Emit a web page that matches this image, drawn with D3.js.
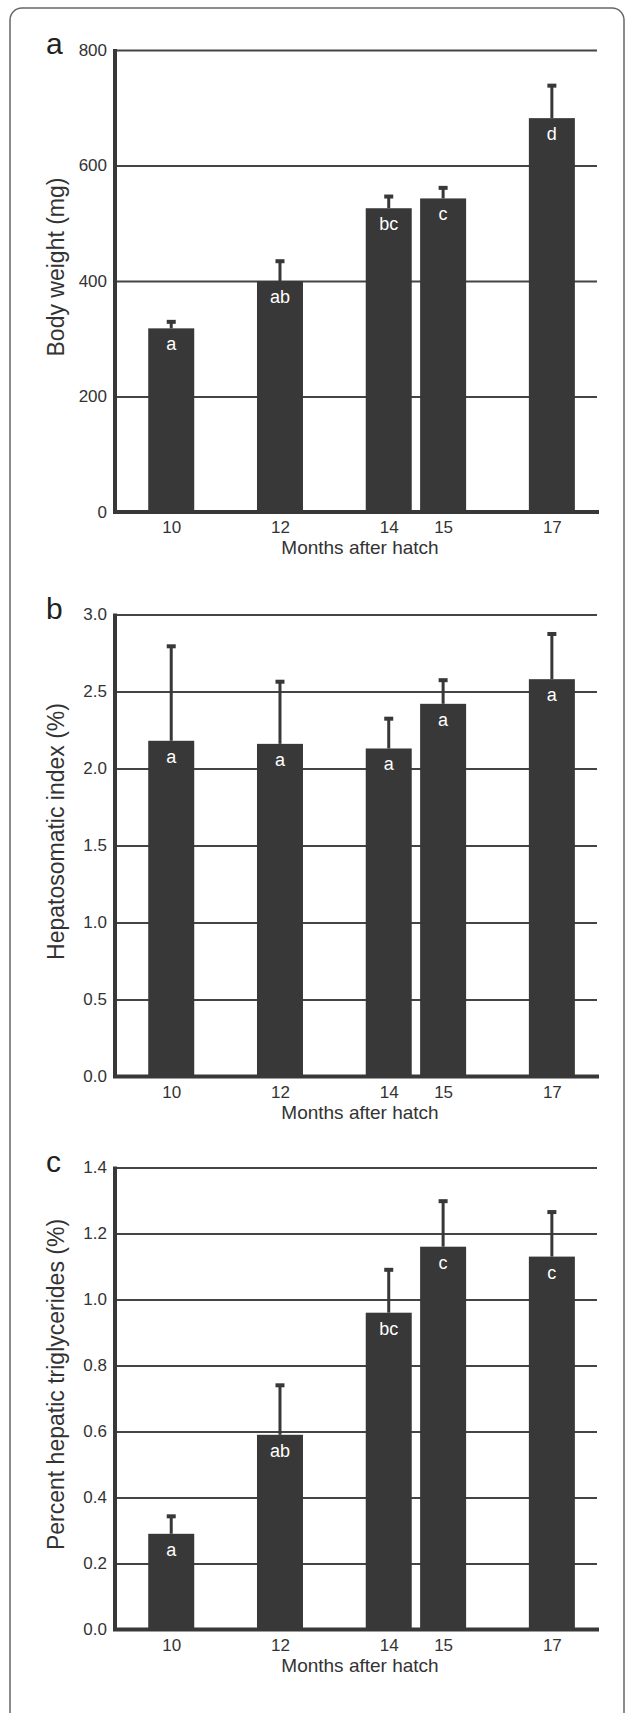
<!DOCTYPE html>
<html>
<head>
<meta charset="utf-8">
<script src="https://cdn.jsdelivr.net/npm/d3@7"></script>
<style>
  body { margin: 0; background: #fff; }
  svg { display: block; font-family: "Liberation Sans", Arial, Helvetica, sans-serif; }
</style>
</head>
<body>
<div id="chart"></div>
<script>
// months after hatch (x categories)
var months = [10, 12, 14, 15, 17];

// panel a: body weight (mg)
var bodyWeight = [318, 400, 526, 543, 682];
var bodyWeightErr = [13, 36, 22, 20, 58];
var bodyWeightLetters = ["a", "ab", "bc", "c", "d"];
var bodyWeightTicks = [0, 200, 400, 600, 800];

// panel b: hepatosomatic index (%)
var hsi = [2.18, 2.16, 2.13, 2.42, 2.58];
var hsiErr = [0.62, 0.41, 0.20, 0.16, 0.30];
var hsiLetters = ["a", "a", "a", "a", "a"];
var hsiTicks = [0, 0.5, 1.0, 1.5, 2.0, 2.5, 3.0];

// panel c: percent hepatic triglycerides (%)
var triglycerides = [0.29, 0.59, 0.96, 1.16, 1.13];
var triglyceridesErr = [0.056, 0.153, 0.133, 0.141, 0.138];
var triglyceridesLetters = ["a", "ab", "bc", "c", "c"];
var triglyceridesTicks = [0, 0.2, 0.4, 0.6, 0.8, 1.0, 1.2, 1.4];

var svgWidth = 625, svgHeight = 1713;
var barColor = "#383838";
var inkColor = "#333";

var svg = d3.select("#chart").append("svg")
  .attr("width", svgWidth)
  .attr("height", svgHeight);

svg.append("rect")
  .attr("width", svgWidth).attr("height", svgHeight)
  .attr("fill", "#fff");

// outer rounded frame (bottom runs off the page)
svg.append("rect")
  .attr("x", 10).attr("y", 8)
  .attr("width", 614).attr("height", 1800)
  .attr("rx", 12)
  .attr("fill", "none")
  .attr("stroke", "#666")
  .attr("stroke-width", 1.5);

var left = 115, right = 597;
var plotHeight = 462;

var x = d3.scaleLinear()
  .domain([8.966, 17.83])
  .range([left, right]);

var barWidth = 46;

var panels = [
  { letter: "a", top: 50, values: bodyWeight, errs: bodyWeightErr, letters: bodyWeightLetters,
    ticks: bodyWeightTicks, fmt: d3.format("d"), title: "Body weight (mg)" },
  { letter: "b", top: 614.5, values: hsi, errs: hsiErr, letters: hsiLetters,
    ticks: hsiTicks, fmt: d3.format(".1f"), title: "Hepatosomatic index (%)" },
  { letter: "c", top: 1167.5, values: triglycerides, errs: triglyceridesErr, letters: triglyceridesLetters,
    ticks: triglyceridesTicks, fmt: d3.format(".1f"), title: "Percent hepatic triglycerides (%)" }
];

panels.forEach(function(p) {
  var bottom = p.top + plotHeight;
  var y = d3.scaleLinear()
    .domain([0, d3.max(p.ticks)])
    .range([bottom, p.top]);

  var g = svg.append("g");

  // gridlines + y tick labels
  var yAxis = g.append("g")
    .attr("transform", "translate(" + left + ",0)")
    .call(d3.axisLeft(y)
      .tickValues(p.ticks)
      .tickFormat(p.fmt)
      .tickSize(-(right - left))
      .tickPadding(8))
    .attr("font-family", null)
    .attr("font-size", null);
  yAxis.select(".domain").remove();
  yAxis.selectAll("line").attr("stroke", "#444").attr("stroke-width", 2);
  yAxis.selectAll("text")
    .attr("fill", inkColor)
    .attr("font-size", "17px");

  var data = months.map(function(m, i) {
    return { m: m, v: p.values[i], e: p.errs[i], l: p.letters[i] };
  });

  // error bars (upper only)
  g.selectAll(".stem").data(data).enter().append("line")
    .attr("x1", d => x(d.m)).attr("x2", d => x(d.m))
    .attr("y1", d => y(d.v)).attr("y2", d => y(d.v + d.e))
    .attr("stroke", barColor).attr("stroke-width", 3);
  g.selectAll(".cap").data(data).enter().append("rect")
    .attr("x", d => x(d.m) - 4.5)
    .attr("y", d => y(d.v + d.e) - 1)
    .attr("width", 9).attr("height", 4)
    .attr("fill", barColor);

  // bars
  g.selectAll(".bar").data(data).enter().append("rect")
    .attr("x", d => x(d.m) - barWidth / 2)
    .attr("y", d => y(d.v))
    .attr("width", barWidth)
    .attr("height", d => bottom - y(d.v))
    .attr("fill", barColor);

  // significance letters
  g.selectAll(".sig").data(data).enter().append("text")
    .attr("x", d => x(d.m))
    .attr("y", d => y(d.v) + 22)
    .attr("text-anchor", "middle")
    .attr("fill", "#fff")
    .attr("font-size", "18px")
    .text(d => d.l);

  // x axis labels
  var xAxis = g.append("g")
    .attr("transform", "translate(0," + bottom + ")")
    .call(d3.axisBottom(x).tickValues(months).tickSize(0).tickPadding(9))
    .attr("font-family", null)
    .attr("font-size", null);
  xAxis.select(".domain").remove();
  xAxis.selectAll("text")
    .attr("fill", inkColor)
    .attr("font-size", "17px");

  // heavy axis lines
  g.append("line")
    .attr("x1", left).attr("x2", left)
    .attr("y1", p.top - 1).attr("y2", bottom)
    .attr("stroke", barColor).attr("stroke-width", 4);
  g.append("line")
    .attr("x1", left - 2).attr("x2", right + 2)
    .attr("y1", bottom).attr("y2", bottom)
    .attr("stroke", barColor).attr("stroke-width", 4);

  g.append("text")
    .attr("x", 360)
    .attr("y", bottom + 42)
    .attr("text-anchor", "middle")
    .attr("fill", inkColor)
    .attr("font-size", "19px")
    .text("Months after hatch");

  g.append("text")
    .attr("transform", "translate(64," + ((p.top + bottom) / 2 - 14) + ") rotate(-90)")
    .attr("text-anchor", "middle")
    .attr("fill", inkColor)
    .attr("font-size", "23px")
    .text(p.title);

  g.append("text")
    .attr("x", 46)
    .attr("y", p.top + 4)
    .attr("fill", "#222")
    .attr("font-size", "30px")
    .text(p.letter);
});
</script>
</body>
</html>
